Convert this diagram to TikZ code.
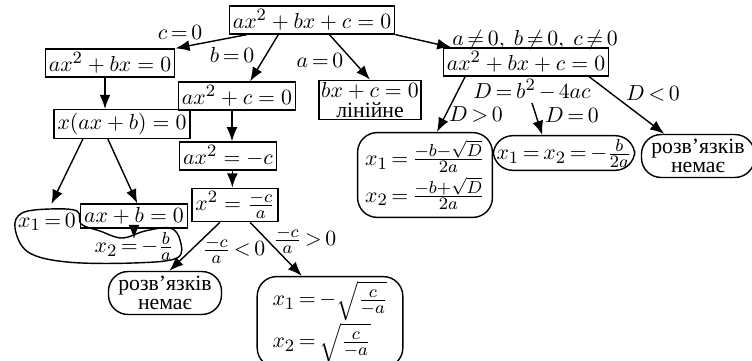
\documentclass[tikz,border=0pt]{standalone}
\usepackage{amsmath,amssymb}
\usepackage{fontspec}
\setmainfont{Liberation Serif}
\DeclareMathSizes{10}{10}{8}{6}
\usepackage{tikz}
\usetikzlibrary{arrows.meta,positioning}

\begin{document}
\begin{tikzpicture}[
    x=0.46pt, y=-0.46pt,
    eqbox/.style={draw, line width=0.65pt, inner sep=1.6pt},
    blob/.style={draw, line width=0.65pt, rounded corners=9pt, inner sep=2pt, align=center,
        font={\thickmuskip=3mu\medmuskip=2.5mu}},
    cond/.style={inner sep=1pt, font={\thickmuskip=3mu\medmuskip=2.5mu}},
    arr/.style={-{Latex[length=6.5pt,width=5pt]}, line width=0.65pt}
]
\useasboundingbox (0,0) rectangle (752,361);

\node[eqbox] (root) at (312,20) {$ax^2+bx+c=0$};
\node[eqbox] (eqA) at (110,63) {$ax^2+bx=0$};
\node[eqbox] (eqB) at (237,96) {$ax^2+c=0$};
\node[eqbox, align=center, inner sep=1pt] (lin) at (370,100) {$bx+c=0$\\[-3pt]лінійне};
\node[eqbox] (right1) at (526,62) {$ax^2+bx+c=0$};
\node[eqbox] (fact) at (122,124) {$x(ax+b)=0$};
\node[eqbox] (eqC) at (228,156) {$ax^2=-c$};
\node[eqbox] (eqD) at (235,205) {$x^2=\frac{-c}{a}$};
\node[cond] (x1zero) at (47,222) {$x_1=0$};
\node[eqbox] (linB) at (134,216) {$ax+b=0$};
\node[cond] (x2) at (134,246) {$x_2=-\frac{b}{a}$};
\node[blob, minimum width=52pt, minimum height=18pt] (noneL) at (165,293) {розв’язків\\[-3pt]немає};
\node[blob, minimum width=67pt, minimum height=37pt, align=left] (sqrtsol) at (330,322)
    {$x_1=-\sqrt{\frac{c}{-a}}$\\[0pt]$x_2=\sqrt{\frac{c}{-a}}$};
\node[blob, minimum width=62pt, minimum height=39pt, align=left] (quad) at (425,175)
    {$x_1=\frac{-b-\sqrt{D}}{2a}$\\[1pt]$x_2=\frac{-b+\sqrt{D}}{2a}$};
\node[blob, minimum width=62pt, minimum height=14pt, inner sep=1.5pt] (double) at (564,153) {$x_1=x_2=-\frac{b}{2a}$};
\node[blob, minimum width=52pt, minimum height=19pt] (noneR) at (698,156) {розв’язків\\[-3pt]немає};

\node[cond] (lc0) at (180,32) {$c=0$};
\node[cond] (lb0) at (232,55) {$b=0$};
\node[cond] (la0) at (320,60) {$a=0$};
\node[cond] (lnz) at (535,40) {$a\neq0,\ b\neq0,\ c\neq0$};
\node[cond] (ldisc) at (532,90) {$D=b^2-4ac$};
\node[cond] (lpos) at (476,114) {$D>0$};
\node[cond] (lzero) at (572,115) {$D=0$};
\node[cond] (lneg) at (653,93) {$D<0$};
\node[cond] (lcneg) at (234,250) {$\frac{-c}{a}<0$};
\node[cond] (lcpos) at (305,240) {$\frac{-c}{a}>0$};

\draw[arr] ([xshift=-30pt]root.south) -- (eqA.north east);
\draw[arr] ([xshift=-15.5pt]root.south) -- ([xshift=6pt]eqB.north);
\draw[arr] ([xshift=8pt]root.south) -- (lin.north);
\draw[arr] (root.south east) -- ([xshift=4pt]right1.north west);
\draw[arr] ([xshift=-2.3pt]eqA.south) -- ([xshift=-2.3pt]eqA.south |- fact.north);
\draw[arr] ([xshift=-2.3pt]eqB.south) -- ([xshift=-2.3pt]eqB.south |- eqC.north);
\draw[arr] ([xshift=2pt]eqC.south) -- ([xshift=2pt]eqC.south |- eqD.north);
\draw[arr] ([xshift=-18pt]fact.south) -- ([xshift=2pt,yshift=3pt]x1zero.north);
\draw[arr] ([xshift=-6.5pt]fact.south) -- ([xshift=1.5pt]linB.north);
\draw[arr] (linB.south) -- ([yshift=3.2pt]x2.center);
\draw[arr] ([xshift=-7pt]eqD.south) -- ([xshift=2pt]noneL.north);
\draw[arr] ([xshift=7pt]eqD.south) -- ([xshift=-13pt]sqrtsol.north);
\draw[arr] ([xshift=-28pt]right1.south) -- ([xshift=5.5pt]quad.north);
\draw[arr] (ldisc.south) -- ([xshift=-10pt]double.north);
\draw[arr] ([xshift=29pt]right1.south) -- ([xshift=-15.5pt]noneR.north);

\draw[line width=0.65pt] plot[smooth cycle, tension=0.6] coordinates {
    (15,228) (22,213) (50,209) (77,211) (81,224) (100,231) (122,238) (145,231)
    (170,228) (180,240) (177,258) (133,263) (67,262) (28,252)};
\end{tikzpicture}
\end{document}
